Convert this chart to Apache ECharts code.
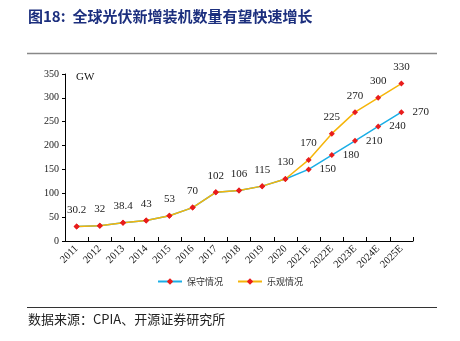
<!DOCTYPE html>
<html><head><meta charset="utf-8">
<script src="https://cdn.jsdelivr.net/npm/echarts@6/dist/echarts.min.js"></script>
<style>html,body{margin:0;padding:0;background:#fff;}#c{width:460px;height:341px;}</style>
</head><body><div id="c"></div>
<script>
const categories = ['2011','2012','2013','2014','2015','2016','2017','2018','2019','2020','2021E','2022E','2023E','2024E','2025E'];
const conservative = [30.2,32,38.4,43,53,70,102,106,115,130,150,180,210,240,270];
const optimistic = [30.2,32,38.4,43,53,70,102,106,115,130,170,225,270,300,330];
const yTicks = [0,50,100,150,200,250,300,350];
const nHist = 10;
const serif = '"Liberation Serif","Times New Roman",serif';
const cjk = '"Noto Sans CJK SC",sans-serif';
const chart = echarts.init(document.getElementById('c'));
chart.setOption({
  animation:false,
  graphic:[
    {type:'text',left:28,top:9,style:{text:'图18:  全球光伏新增装机数量有望快速增长',font:'bold 15px '+cjk,fill:'#1c2f7e'}},
    {type:'line',shape:{x1:27,y1:53.5,x2:437,y2:53.5},style:{stroke:'#888',lineWidth:1.5}},
    {type:'line',shape:{x1:27,y1:307.5,x2:437,y2:307.5},style:{stroke:'#333',lineWidth:1}},
    {type:'text',left:28,top:313,style:{text:'数据来源：CPIA、开源证券研究所',font:'13px '+cjk,fill:'#222'}},
    {type:'text',left:76,top:72,style:{text:'GW',font:'11px '+serif,fill:'#111'}}
  ],
  grid:{left:65,right:47,top:74,bottom:100},
  legend:{bottom:50,left:'center',itemWidth:24,itemHeight:8,itemGap:14,
    textStyle:{fontFamily:cjk,fontSize:9,color:'#333'},
    data:['保守情况','乐观情况']},
  xAxis:{type:'category',data:categories,boundaryGap:true,
    axisLine:{lineStyle:{color:'#000'}},
    axisTick:{show:true,lineStyle:{color:'#000'},length:4,inside:true},
    axisLabel:{rotate:45,fontFamily:serif,fontSize:10.5,color:'#111',margin:6}},
  yAxis:{type:'value',min:0,max:350,interval:50,
    axisLine:{show:true,lineStyle:{color:'#000'}},
    axisTick:{show:true,lineStyle:{color:'#000'},length:3},
    splitLine:{show:false},
    axisLabel:{fontFamily:serif,fontSize:10,color:'#222',margin:6}},
  series:[
    {name:'保守情况',type:'line',data:conservative,
      lineStyle:{color:'#1aaee6',width:1.5},itemStyle:{color:'#e81c1c'},
      color:'#1aaee6',symbol:'diamond',symbolSize:6,
      label:{show:true,position:'right',distance:8,fontFamily:serif,fontSize:11,color:'#222',
        formatter:p=>p.dataIndex>=nHist?String(p.value):''}},
    {name:'乐观情况',type:'line',data:optimistic,
      lineStyle:{color:'#f5b50a',width:1.5},itemStyle:{color:'#e81c1c'},
      color:'#f5b50a',symbol:'diamond',symbolSize:6,
      label:{show:true,position:'top',distance:8,fontFamily:serif,fontSize:11,color:'#222'}}
  ]
});
</script></body></html>
